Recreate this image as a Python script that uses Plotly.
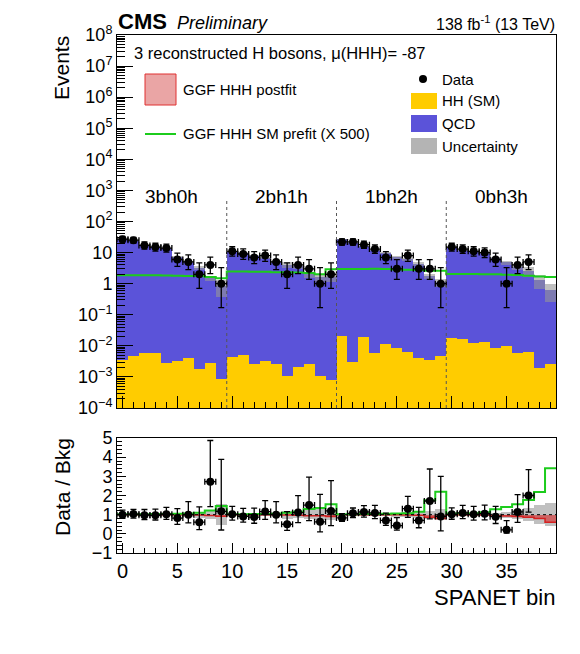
import numpy as np
import plotly.graph_objects as go

# bins of the SPANET output, 4 categories x 10 bins
bins = np.arange(40)
edges = np.arange(-0.5, 40.5, 1.0)
categories = ["3bh0h", "2bh1h", "1bh2h", "0bh3h"]
category_centers = [4.5, 14.5, 24.5, 34.5]
category_edges = [9.5, 19.5, 29.5]

nan = np.nan
data = np.array([27, 25, 17, 15, 14, 6, 5, 2, 4, 1,
                 11, 9, 7, 8, 5, 2, 4, 3, 1, 2,
                 22, 22, 18, 13, 7, 3, 8, 3, 3, 1,
                 15, 13, 11, 10, 6, 1, 4, 5, nan, nan])
data_err_hi = np.array([6.26, 6.06, 5.20, 4.98, 4.85, 3.58, 3.38, 2.64, 3.16, 2.30,
                        4.42, 4.11, 3.77, 3.95, 3.38, 2.64, 3.16, 2.92, 2.30, 2.64,
                        5.75, 5.75, 5.32, 4.71, 3.77, 2.92, 3.95, 2.92, 2.92, 2.30,
                        4.98, 4.71, 4.42, 4.27, 3.58, 2.30, 3.16, 3.38, nan, nan])
data_err_lo = np.array([5.17, 4.97, 4.08, 3.83, 3.70, 2.38, 2.16, 1.29, 1.91, 0.83,
                        3.27, 2.94, 2.58, 2.77, 2.16, 1.29, 1.91, 1.63, 0.83, 1.29,
                        4.65, 4.65, 4.20, 3.56, 2.58, 1.63, 2.77, 1.63, 1.63, 0.83,
                        3.83, 3.56, 3.27, 3.11, 2.38, 0.83, 1.91, 2.16, nan, nan])

# total background (QCD + HH)
bkg = np.array([27.0, 24.3, 17.5, 15.5, 13.7, 7.3, 5.0, 3.3, 1.47, 0.85,
                10.8, 9.9, 8.0, 6.9, 5.0, 4.0, 3.6, 2.0, 1.6, 1.67,
                26.5, 20.6, 15.8, 11.9, 10.0, 7.0, 6.1, 4.3, 1.75, 1.1,
                14.7, 11.9, 10.8, 9.5, 6.7, 4.8, 3.5, 2.5, 1.3, 0.63])
hh_sm = np.array([0.0035, 0.0047, 0.0060, 0.0058, 0.0028, 0.0032, 0.0040, 0.0018, 0.0028, 0.00083,
                  0.0045, 0.0050, 0.0026, 0.0032, 0.0026, 0.00107, 0.0021, 0.0026, 0.00107, 0.00078,
                  0.0207, 0.0031, 0.0195, 0.0058, 0.0115, 0.0088, 0.0063, 0.0042, 0.0035, 0.0047,
                  0.0174, 0.0162, 0.0120, 0.0136, 0.0083, 0.0100, 0.0058, 0.0062, 0.0019, 0.0026])
unc_rel = np.array([0.04, 0.04, 0.05, 0.05, 0.06, 0.08, 0.10, 0.15, 0.20, 0.55,
                    0.05, 0.05, 0.06, 0.07, 0.09, 0.20, 0.18, 0.22, 0.28, 0.30,
                    0.04, 0.04, 0.05, 0.05, 0.08, 0.10, 0.12, 0.15, 0.20, 0.30,
                    0.05, 0.05, 0.05, 0.06, 0.10, 0.15, 0.22, 0.35, 0.50, 0.60])
hhh_prefit_x500 = np.array([1.85, 1.85, 1.85, 1.85, 1.83, 1.80, 1.78, 1.75, 1.65, 1.50,
                            2.45, 2.45, 2.40, 2.40, 2.35, 2.35, 2.30, 2.20, 2.00, 2.90,
                            2.95, 2.95, 2.95, 3.00, 2.95, 2.85, 2.80, 2.75, 2.60, 2.60,
                            2.05, 2.05, 2.05, 2.00, 2.00, 1.95, 1.90, 1.80, 1.70, 1.65])
prefit_ratio = np.array([1.02, 1.02, 1.02, 1.03, 1.03, 1.05, 1.06, 1.10, 1.22, 1.45,
                         1.02, 1.02, 1.03, 1.03, 1.05, 1.10, 1.15, 1.30, 1.35, 1.55,
                         1.02, 1.02, 1.03, 1.04, 1.05, 1.06, 1.08, 1.15, 1.75, 2.20,
                         1.06, 1.07, 1.08, 1.12, 1.28, 1.40, 1.55, 1.76, 2.18, 3.42])
postfit_ratio = np.array([0.99, 0.99, 0.99, 0.99, 0.99, 0.99, 0.99, 0.98, 0.96, 0.92,
                          0.99, 0.99, 0.99, 0.99, 0.99, 0.98, 0.97, 0.95, 0.94, 0.90,
                          0.99, 0.99, 0.99, 0.99, 0.99, 0.99, 0.98, 0.97, 0.87, 0.80,
                          0.99, 0.99, 0.99, 0.98, 0.95, 0.93, 0.90, 0.87, 0.80, 0.60])

y_tickvals = [1e-4, 1e-3, 1e-2, 1e-1, 1, 10, 1e2, 1e3, 1e4, 1e5, 1e6, 1e7, 1e8]
y_ticktext = ["10<sup>\u22124</sup>", "10<sup>\u22123</sup>", "10<sup>\u22122</sup>",
              "10<sup>\u22121</sup>", "1", "10", "10<sup>2</sup>", "10<sup>3</sup>",
              "10<sup>4</sup>", "10<sup>5</sup>", "10<sup>6</sup>", "10<sup>7</sup>",
              "10<sup>8</sup>"]
r_tickvals = [-1, 0, 1, 2, 3, 4, 5]
r_ticktext = ["\u22121", "0", "1", "2", "3", "4", "5"]

QCD_COL = "#5b53d9"
HH_COL = "#ffcc00"
UNC_COL = "rgba(150,150,150,0.6)"
GREEN = "#1ccc1c"
FONT = "Liberation Sans"

# pixel frame of the plot area (reference picture coordinates)
W, H = 580, 654
L, R, T, B = 117, 556, 35, 553
PAGE_OFF = 8  # the html body margin shifts the figure by 8px


def px(x):
    return (x - L) / (R - L)


def py(y):
    return (B - y) / (B - T)


ratio = data / bkg
ratio_hi = data_err_hi / bkg
ratio_lo = data_err_lo / bkg

fig = go.Figure()

# ---- top panel
fig.add_trace(go.Bar(x=bins, y=bkg, width=1, marker=dict(color=QCD_COL, line_width=0),
                     xaxis="x", yaxis="y", name="QCD"))
fig.add_trace(go.Bar(x=bins, y=hh_sm, width=1, marker=dict(color=HH_COL, line_width=0),
                     xaxis="x", yaxis="y", name="HH (SM)"))
fig.add_trace(go.Bar(x=bins, y=2 * bkg * unc_rel, base=bkg * (1 - unc_rel), width=1,
                     marker=dict(color=UNC_COL, line_width=0),
                     xaxis="x", yaxis="y", name="Uncertainty"))
fig.add_trace(go.Scatter(x=edges, y=np.append(hhh_prefit_x500, hhh_prefit_x500[-1]),
                         mode="lines", line=dict(color=GREEN, width=2, shape="hv"),
                         xaxis="x", yaxis="y", name="GGF HHH SM prefit (X 500)"))
fig.add_trace(go.Scatter(x=bins, y=data, mode="markers",
                         marker=dict(color="black", size=8),
                         error_y=dict(type="data", symmetric=False, array=data_err_hi,
                                      arrayminus=data_err_lo, color="black",
                                      thickness=1.3, width=3),
                         error_x=dict(type="constant", value=0.5, color="black",
                                      thickness=1.3, width=3),
                         xaxis="x", yaxis="y", name="Data"))

# ---- ratio panel
fig.add_trace(go.Bar(x=bins, y=2 * unc_rel, base=1 - unc_rel, width=1,
                     marker=dict(color=UNC_COL, line_width=0),
                     xaxis="x2", yaxis="y2", name="Uncertainty"))
fig.add_trace(go.Bar(x=bins, y=1 - postfit_ratio, base=postfit_ratio, width=1,
                     marker=dict(color="rgba(215,40,40,0.6)", line_width=0),
                     xaxis="x2", yaxis="y2", name="GGF HHH postfit"))
fig.add_trace(go.Scatter(x=edges, y=np.append(postfit_ratio, postfit_ratio[-1]),
                         mode="lines", line=dict(color="#d42020", width=1.5, shape="hv"),
                         xaxis="x2", yaxis="y2"))
fig.add_trace(go.Scatter(x=edges, y=np.append(prefit_ratio, prefit_ratio[-1]),
                         mode="lines", line=dict(color=GREEN, width=2, shape="hv"),
                         xaxis="x2", yaxis="y2"))
fig.add_trace(go.Scatter(x=bins, y=ratio, mode="markers",
                         marker=dict(color="black", size=8),
                         error_y=dict(type="data", symmetric=False, array=ratio_hi,
                                      arrayminus=ratio_lo, color="black",
                                      thickness=1.3, width=3),
                         error_x=dict(type="constant", value=0.5, color="black",
                                      thickness=1.3, width=3),
                         xaxis="x2", yaxis="y2"))

axis_common = dict(showline=True, linecolor="black", linewidth=1, mirror=True,
                   ticks="inside", tickcolor="black", showgrid=False, zeroline=False)

top_dom = [py(408), 1]
rat_dom = [0, py(438)]

fig.update_layout(
    width=W - PAGE_OFF, height=H - PAGE_OFF,
    margin=dict(l=L - PAGE_OFF, r=W - R, t=T - PAGE_OFF, b=H - B, autoexpand=False),
    paper_bgcolor="white", plot_bgcolor="white",
    barmode="overlay", bargap=0, showlegend=False,
    font=dict(family=FONT, color="black"),
    xaxis=dict(domain=[0, 1], anchor="y", range=[-0.5, 39.5], showticklabels=False,
               tick0=0, dtick=5, ticklen=12,
               minor=dict(ticks="inside", dtick=1, ticklen=6, tickcolor="black"),
               **axis_common),
    yaxis=dict(domain=top_dom, anchor="x", type="log", range=[-4, 8],
               tickmode="array", tickvals=y_tickvals, ticktext=y_ticktext,
               ticklen=16, tickfont=dict(size=18),
               minor=dict(ticks="inside", dtick="D1", ticklen=8, tickcolor="black"),
               **axis_common),
    xaxis2=dict(domain=[0, 1], anchor="y2", range=[-0.5, 39.5],
                tick0=0, dtick=5, ticklen=10, tickfont=dict(size=20),
                minor=dict(ticks="inside", dtick=1, ticklen=5, tickcolor="black"),
                **axis_common),
    yaxis2=dict(domain=rat_dom, anchor="x2", range=[-1, 5],
                tickmode="array", tickvals=r_tickvals, ticktext=r_ticktext,
                ticklen=9, tickfont=dict(size=18),
                minor=dict(ticks="inside", dtick=0.2, ticklen=5, tickcolor="black"),
                **axis_common),
)

shapes = []
for e in category_edges:
    shapes.append(dict(type="line", xref="x", yref="y domain", x0=e, x1=e, y0=0, y1=0.563,
                       line=dict(color="#555555", width=1, dash="dot")))
shapes.append(dict(type="line", xref="x2 domain", yref="y2", x0=0, x1=1, y0=1, y1=1,
                   line=dict(color="black", width=1, dash="dot")))

# legend symbols
shapes.append(dict(type="rect", xref="paper", yref="paper", x0=px(145), x1=px(176),
                   y0=py(105), y1=py(74), fillcolor="#eaa5a5",
                   line=dict(color="#e03030", width=1)))
shapes.append(dict(type="line", xref="paper", yref="paper", x0=px(145), x1=px(176),
                   y0=py(134), y1=py(134), line=dict(color=GREEN, width=2)))
shapes.append(dict(type="circle", xref="paper", yref="paper", x0=px(419), x1=px(427),
                   y0=py(83), y1=py(75), fillcolor="black", line=dict(color="black", width=0)))
for (y0, y1, col) in [(109, 93, HH_COL), (132, 115, QCD_COL), (154, 138, "#b4b4b4")]:
    shapes.append(dict(type="rect", xref="paper", yref="paper", x0=px(411), x1=px(437),
                       y0=py(y0), y1=py(y1), fillcolor=col, line=dict(width=0)))
fig.update_layout(shapes=shapes)

ann = []


def text(x, y, s, size, xanchor="left", **kw):
    ann.append(dict(x=px(x), y=py(y), xref="paper", yref="paper", text=s, showarrow=False,
                    xanchor=xanchor, yanchor="middle", font=dict(size=size, family=FONT,
                                                                 color="black"), **kw))


text(116, 21, "<b>CMS</b>", 22)
text(175, 23, "<i>Preliminary</i>", 18)
text(557, 23, "138 fb<sup>-1</sup> (13 TeV)", 16, xanchor="right")
text(132, 53, "3 reconstructed H bosons, \u03bc(HHH)= -87", 16.5)
text(181, 89, "GGF HHH postfit", 15)
text(181, 134, "GGF HHH SM prefit (X 500)", 15)
text(440, 79, "Data", 15)
text(440, 101, "HH (SM)", 15)
text(440, 123, "QCD", 15)
text(440, 146, "Uncertainty", 15)
text(62, 68, "Events", 21, xanchor="center", textangle=-90)
text(62, 487, "Data / Bkg", 21, xanchor="center", textangle=-90)
text(557, 597, "SPANET bin", 22, xanchor="right")

for c, xc in zip(categories, category_centers):
    ann.append(dict(x=xc, y=0.566, xref="x", yref="y domain", text=c, showarrow=False,
                    xanchor="center", yanchor="middle",
                    font=dict(size=19, family=FONT, color="black")))

fig.update_layout(annotations=ann)

fig.write_html("out.html")
